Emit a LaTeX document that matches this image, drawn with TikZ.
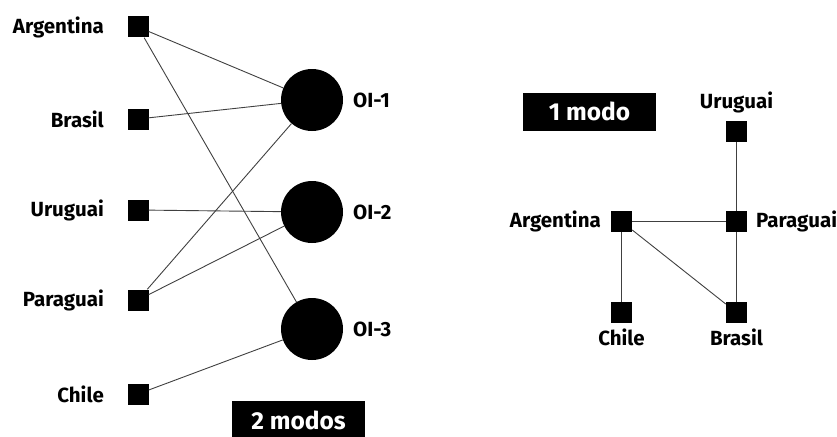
\documentclass[tikz,border=0pt]{standalone}
\usepackage{fontspec}
\setmainfont{Fira Sans}
\begin{document}
\begin{tikzpicture}[x=1pt,y=-1pt,
  actor/.style={fill=black,draw=none,minimum size=21pt,inner sep=0pt,shape=rectangle},
  org/.style={fill=black,draw=none,circle,minimum size=62pt,inner sep=0pt},
  lbl/.style={font=\fontsize{20.5}{20.5}\selectfont\bfseries,inner sep=0pt},
  tag/.style={fill=black,text=white,font=\fontsize{24.5}{24.5}\selectfont\bfseries,inner sep=0pt,minimum height=38pt},
  tie/.style={draw=black!75,line width=0.9pt}]
\useasboundingbox (0,0) rectangle (837,436);

% two-mode network: countries and organisations
\node[actor] (a2) at (138,27) {};
\node[actor] (b2) at (138,119) {};
\node[actor] (u2) at (138,210) {};
\node[actor] (p2) at (138,300) {};
\node[actor] (c2) at (138,394) {};
\node[org] (o1) at (312,100) {};
\node[org] (o2) at (312,212) {};
\node[org] (o3) at (312,329) {};

\node[lbl,anchor=east] (la2) at (104,27) {Argentina};
\node[lbl,anchor=east] (lb2) at (104,119) {Brasil};
\node[lbl,anchor=east] (lu2) at (104,210) {Uruguai};
\node[lbl,anchor=east] (lp2) at (104,300) {Paraguai};
\node[lbl,anchor=east] (lc2) at (104,394) {Chile};
\node[lbl,anchor=west] (lo1) at (353,100) {OI-1};
\node[lbl,anchor=west] (lo2) at (353,212) {OI-2};
\node[lbl,anchor=west] (lo3) at (353,329) {OI-3};

\draw[tie] (a2) -- (o1);
\draw[tie] (a2) -- (o3);
\draw[tie] (b2) -- (o1);
\draw[tie] (u2) -- (o2);
\draw[tie] (p2) -- (o1);
\draw[tie] (p2) -- (o2);
\draw[tie] (c2) -- (o3);

\node[tag,minimum width=133pt] (t2) at (298.5,420) {2 modos};

% one-mode projection
\node[actor] (u1) at (736.5,131.5) {};
\node[actor] (p1) at (736.5,221.5) {};
\node[actor] (a1) at (621.5,221.5) {};
\node[actor] (c1) at (621.5,312.5) {};
\node[actor] (b1) at (736.5,312.5) {};
\draw[tie] (u1) -- (p1);
\draw[tie] (a1) -- (p1);
\draw[tie] (a1) -- (c1);
\draw[tie] (a1) -- (b1);
\draw[tie] (p1) -- (b1);

\node[lbl,anchor=south] (lu1) at (736.5,113) {Uruguai};
\node[lbl,anchor=west] (lp1) at (756,221.5) {Paraguai};
\node[lbl,anchor=east] (la1) at (601,221.5) {Argentina};
\node[lbl,anchor=north] (lc1) at (621.5,329) {Chile};
\node[lbl,anchor=north] (lb1) at (736.5,329) {Brasil};

\node[tag,minimum width=133pt] (t1) at (589.5,111.5) {1 modo};
\end{tikzpicture}
\end{document}
